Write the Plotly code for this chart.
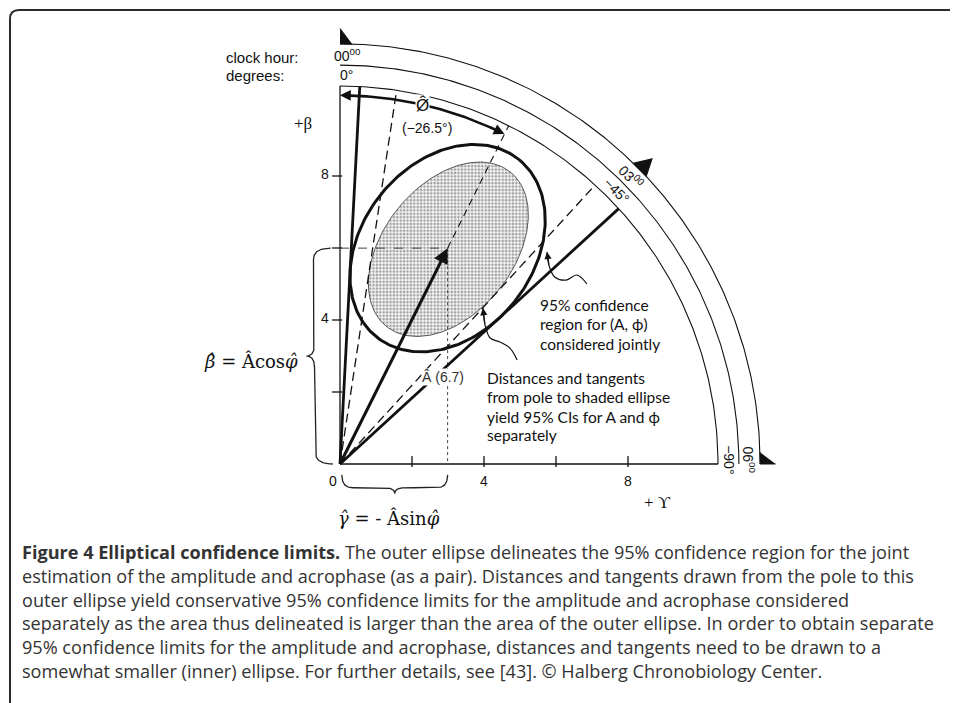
import numpy as np
import plotly.graph_objects as go

# The page body has an 8px margin, so the figure is drawn 8px smaller and every
# reference pixel position is shifted by that margin.
BODY = 8
W, H = 958 - BODY, 703 - BODY
PX = 36.0                       # pixels per data unit
OX, OY = 340 - BODY, 464 - BODY  # pixel position of the pole inside the figure

# ---------------- data ----------------
amp_hat = 6.7                 # Â
acro_hat = -26.5              # φ̂ (degrees)
ring_radii = [10.5, 11.08, 11.67]
ring_angles = [0, 45, 90]
degree_labels = ["0°", "−45°", "−90°"]
clock_labels = ["00<sup>00</sup>", "03<sup>00</sup>", "06<sup>00</sup>"]
label_angles = [1.0, 45.4, 89.4]
x_tick_vals = [2, 4, 6, 8]
x_label_vals = [0, 4, 8]
x_label_text = ["0", "4", "8"]
y_tick_vals = [2, 4, 6, 8]
y_label_vals = [4, 8]
y_label_text = ["4", "8"]
# ellipses: semi-axes (units) and major-axis angle (deg from +x axis)
outer_axes = [3.16, 2.38]
outer_rot = 51.3
inner_axes = [2.75, 1.80]
inner_rot = 51.2
inner_shift = [0.02, -0.03]
phi_arc_radius = 10.24
axis_len = 10.5

sans = "Liberation Sans"
serif = "Liberation Serif"
ink = "#111111"


def polar(r, ang):
    a = np.radians(ang)
    return r * np.sin(a), r * np.cos(a)


cx, cy = polar(amp_hat, -acro_hat)


def ellipse_pts(c, axes, rot, n=240):
    t = np.linspace(0, 2 * np.pi, n)
    th = np.radians(rot)
    x = axes[0] * np.cos(t)
    y = axes[1] * np.sin(t)
    return (c[0] + x * np.cos(th) - y * np.sin(th),
            c[1] + x * np.sin(th) + y * np.cos(th))


def tangent_angles(c, axes, rot):
    th = np.radians(rot)
    R = np.array([[np.cos(th), -np.sin(th)], [np.sin(th), np.cos(th)]])
    S = R @ np.diag([axes[0] ** 2, axes[1] ** 2]) @ R.T
    ang = np.linspace(-30, 80, 22001)
    a = np.radians(ang)
    nx, ny = np.cos(a), -np.sin(a)
    f = np.abs(nx * c[0] + ny * c[1]) - np.sqrt(S[0, 0] * nx ** 2 + S[1, 1] * ny ** 2 + 2 * S[0, 1] * nx * ny)
    idx = np.where(np.diff(np.sign(f)) != 0)[0]
    return [ang[i] for i in idx]


fig = go.Figure()


def line(x, y, width=1.2, dash="solid", color=ink, shape="linear"):
    fig.add_trace(go.Scatter(x=list(x), y=list(y), mode="lines",
                             line=dict(color=color, width=width, dash=dash, shape=shape),
                             hoverinfo="skip", showlegend=False))


# inner (shaded) ellipse
ic = (cx + inner_shift[0], cy + inner_shift[1])
ix, iy = ellipse_pts(ic, inner_axes, inner_rot)
fig.add_trace(go.Scatter(x=ix, y=iy, mode="lines", fill="toself",
                         fillcolor="#eeeeee",
                         fillpattern=dict(shape=".", fgcolor="#4a4a4a", bgcolor="#f4f4f4",
                                          size=3.4, solidity=0.45),
                         line=dict(color="#555555", width=1),
                         hoverinfo="skip", showlegend=False))

# rings
for r in ring_radii:
    ang = np.linspace(0, 90, 200)
    x, y = polar(r, ang)
    line(x, y, width=1.1)

# axes
line([0, axis_len], [0, 0], width=1.3)
line([0, 0], [0, axis_len], width=1.3)
for v in x_tick_vals:
    line([v, v], [-0.08, 0.22], width=1.3)
for v in y_tick_vals:
    line([-0.22, 0.06], [v, v], width=1.3)

# dashed projections of the estimate
line([0, cx], [cy, cy], width=1.0, dash="dash", color="#444444")
line([cx, cx], [cy, 0], width=1.0, dash="3px,3px", color="#444444")

# tangents from the pole
for ang in tangent_angles((cx, cy), outer_axes, outer_rot):
    x, y = polar(np.array([0, axis_len]), ang)
    line(x, y, width=2.8)
for ang in tangent_angles(ic, inner_axes, inner_rot):
    x, y = polar(np.array([0, axis_len]), ang)
    line(x, y, width=1.3, dash="9px,5px")

# extension of the estimate direction
x, y = polar(np.array([amp_hat, axis_len]), -acro_hat)
line(x, y, width=1.1, dash="7px,5px")

# outer ellipse
ox, oy = ellipse_pts((cx, cy), outer_axes, outer_rot)
line(ox, oy, width=3.0)

# φ̂ arc
ang = np.linspace(0.6, -acro_hat - 0.6, 100)
x, y = polar(phi_arc_radius, ang)
line(x, y, width=2.6)

# ring markers (triangles)
tri_sets = [[(ring_radii[2], 0), (ring_radii[2], 1.6), (12.1, 0)],
            [(ring_radii[2], 44.2), (ring_radii[2], 46.8), (12.14, 45.6)],
            [(ring_radii[2], 88.4), (ring_radii[2], 90), (12.1, 90)]]
for tri in tri_sets:
    pts = [polar(r, a) for r, a in tri]
    fig.add_trace(go.Scatter(x=[p[0] for p in pts], y=[p[1] for p in pts], mode="lines",
                             fill="toself", fillcolor=ink, line=dict(color=ink, width=1),
                             hoverinfo="skip", showlegend=False))


# braces
def brace(p0, p1, normal, q, d, w, n=30):
    p0, p1, nrm = np.array(p0, float), np.array(p1, float), np.array(normal, float)
    t = (p1 - p0) / np.linalg.norm(p1 - p0)
    mid = (p0 + p1) / 2
    segs = [("q", p0, p0 + nrm * q, p0 + nrm * q + t * w),
            ("l", p0 + nrm * q + t * w, None, mid - t * w + nrm * q),
            ("q", mid - t * w + nrm * q, mid + nrm * q, mid + nrm * d),
            ("q", mid + nrm * d, mid + nrm * q, mid + t * w + nrm * q),
            ("l", mid + t * w + nrm * q, None, p1 - t * w + nrm * q),
            ("q", p1 - t * w + nrm * q, p1 + nrm * q, p1)]
    xs, ys = [], []
    s = np.linspace(0, 1, n)[:, None]
    for kind, a, b, c in segs:
        if kind == "l":
            pts = a + (c - a) * s
        else:
            pts = (1 - s) ** 2 * a + 2 * (1 - s) * s * b + s ** 2 * c
        xs += list(pts[:, 0]); ys += list(pts[:, 1])
    return xs, ys


bx, by = brace((-0.26, cy), (-0.2, 0.0), (-1, 0), 0.48, 0.7, 0.32)
line(bx, by, width=1.3, color="#222222")
bx, by = brace((0.05, -0.3), (cx, -0.3), (0, -1), 0.36, 0.52, 0.3)
line(bx, by, width=1.3, color="#222222")

# wavy leaders
lead1_x = [5.75, 5.81, 5.97, 6.28, 6.58, 6.86]
lead1_y = [5.89, 5.50, 5.19, 5.11, 5.25, 5.00]
lead2_x = [3.97, 4.03, 4.17, 4.44, 4.72, 4.92]
lead2_y = [4.33, 3.86, 3.50, 3.39, 3.22, 2.89]
line(lead1_x, lead1_y, width=1.2, shape="spline")
line(lead2_x, lead2_y, width=1.2, shape="spline")

ann = []


def arrow(x, y, ax, ay, width, size=1.0, head=2):
    ann.append(dict(x=x, y=y, ax=ax, ay=ay, xref="x", yref="y", axref="x", ayref="y",
                    text="", showarrow=True, arrowhead=head, arrowsize=size,
                    arrowwidth=width, arrowcolor=ink, standoff=0, startstandoff=0))


arrow(cx, cy, 0, 0, 3.0, 1.0)
x0, y0 = polar(phi_arc_radius, 0.0)
x1, y1 = polar(phi_arc_radius, 1.2)
arrow(x0, y0, x1, y1, 2.4, 0.9)
x0, y0 = polar(phi_arc_radius, -acro_hat)
x1, y1 = polar(phi_arc_radius, -acro_hat - 1.2)
arrow(x0, y0, x1, y1, 2.4, 0.9)
arrow(lead1_x[0], lead1_y[0], lead1_x[1], lead1_y[1], 1.2, 1.2)
arrow(lead2_x[0], lead2_y[0], lead2_x[1], lead2_y[1], 1.2, 1.2)


def text(x, y, s, size=14, family=sans, xanchor="center", yanchor="middle", angle=0,
         color=ink, bg=None, xref="x", yref="y"):
    d = dict(x=x, y=y, xref=xref, yref=yref, text=s, showarrow=False, xanchor=xanchor,
             yanchor=yanchor, textangle=angle, font=dict(size=size, family=family, color=color))
    if bg:
        d["bgcolor"] = bg
        d["borderpad"] = 0
    ann.append(d)


# ring labels
for a, dl, cl, la in zip(ring_angles, degree_labels, clock_labels, label_angles):
    x, y = polar(10.8, la)
    text(x, y, dl, size=14, angle=a)
    x, y = polar(11.37, la)
    text(x, y, cl, size=14, angle=a)

text(-3.22, 11.3, "clock hour:", size=15, xanchor="left")
text(-3.22, 10.78, "degrees:", size=15, xanchor="left")

for v, s in zip(x_label_vals, x_label_text):
    text(v - (0.19 if v == 0 else 0), -0.47, s, size=14)
for v, s in zip(y_label_vals, y_label_text):
    text(-0.24, v + 0.05, s, size=14, xanchor="right")

text(-1.03, 9.47, "+β", size=17, family=serif)
text(8.83, -1.08, "+ ϒ", size=17, family=serif)
x, y = polar(phi_arc_radius, 12.9)
text(x, y, "Ø̂", size=17, family=sans, bg="white")
text(2.42, 9.33, "(−26.5°)", size=14)
text(2.85, 2.42, "Â (6.7)", size=14, color="#333333", bg="white")

lbl_font = "Lato"
lbl_size = 15.5
text(5.5, 4.42, "95% confidence", size=lbl_size, family=lbl_font, xanchor="left")
text(5.5, 3.89, "region for (A, ϕ)", size=lbl_size, family=lbl_font, xanchor="left")
text(5.5, 3.34, "considered jointly", size=lbl_size, family=lbl_font, xanchor="left")
text(4.03, 2.39, "Distances and tangents", size=lbl_size, family=lbl_font, xanchor="left")
text(4.03, 1.86, "from pole to shaded ellipse", size=lbl_size, family=lbl_font, xanchor="left")
text(4.03, 1.31, "yield 95% CIs for A and ϕ", size=lbl_size, family=lbl_font, xanchor="left")
text(4.03, 0.80, "separately", size=lbl_size, family=lbl_font, xanchor="left")

text(-1.11, 2.85, "<i>β̂</i> = Âcos<i>φ̂</i>", size=18, family="DejaVu Serif", xanchor="right")
text(1.36, -1.5, "<i>γ̂</i> = - Âsin<i>φ̂</i>", size=18, family="DejaVu Serif")

# caption
caption_lines = [
    "<b>Figure 4 Elliptical confidence limits.</b> The outer ellipse delineates the 95% confidence region for the joint",
    "estimation of the amplitude and acrophase (as a pair). Distances and tangents drawn from the pole to this",
    "outer ellipse yield conservative 95% confidence limits for the amplitude and acrophase considered",
    "separately as the area thus delineated is larger than the area of the outer ellipse. In order to obtain separate",
    "95% confidence limits for the amplitude and acrophase, distances and tangents need to be drawn to a",
    "somewhat smaller (inner) ellipse. For further details, see [43]. © Halberg Chronobiology Center.",
]
fx = lambda p: (p - BODY) / W
fy = lambda p: 1 - (p - BODY) / H
for i, s in enumerate(caption_lines):
    ypx = 552 + i * 23.8
    text(fx(20), fy(ypx), s, size=18.1, family="Open Sans", xanchor="left",
         color="#333333", xref="paper", yref="paper")

# frame
frame = (f"M {fx(10)} {fy(720)} L {fx(10)} {fy(19)} Q {fx(10)} {fy(10)} {fx(19)} {fy(10)} "
         f"L {fx(970)} {fy(10)}")

fig.update_layout(
    width=W, height=H, autosize=False,
    margin=dict(l=0, r=0, t=0, b=0, pad=0),
    paper_bgcolor="white", plot_bgcolor="white",
    xaxis=dict(range=[-OX / PX, (W - OX) / PX], visible=False, fixedrange=True),
    yaxis=dict(range=[-(H - OY) / PX, OY / PX], visible=False, fixedrange=True),
    annotations=ann,
    shapes=[dict(type="path", path=frame, xref="paper", yref="paper",
                 line=dict(color="#2a2a2a", width=2))],
    showlegend=False,
)

fig.write_html("out.html")
